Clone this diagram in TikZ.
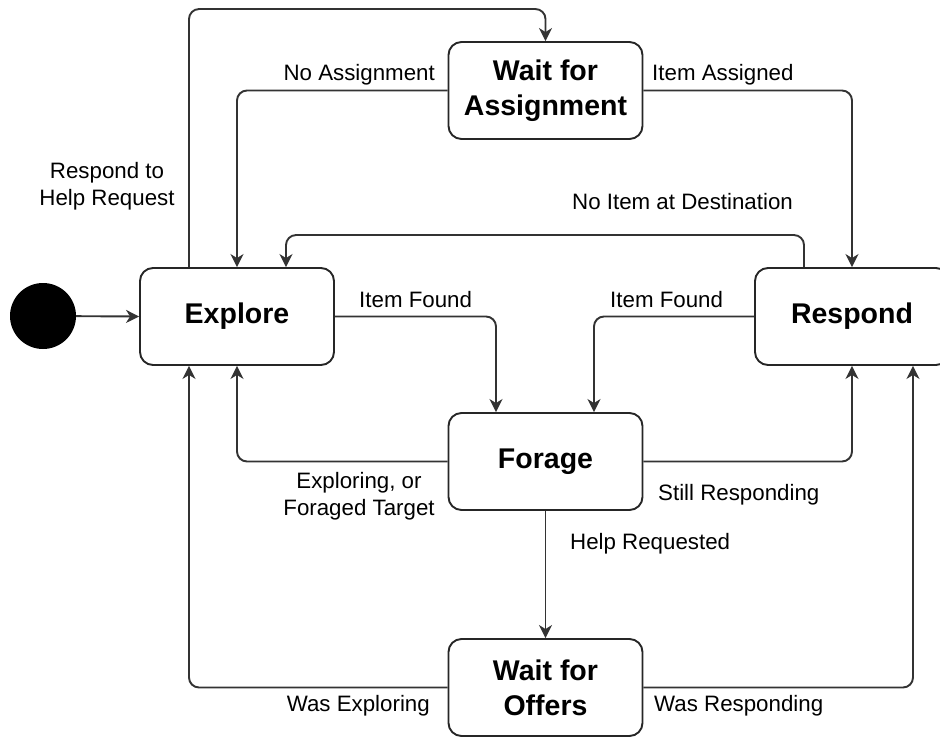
\documentclass[tikz,border=0pt]{standalone}
\usepackage{fontspec}
\setmainfont{Liberation Sans}
\usetikzlibrary{arrows.meta}
\tikzset{
  state/.style={draw=black!85, line width=1.9pt, rounded corners=13pt, fill=white,
    minimum width=194pt, minimum height=97pt, inner sep=0pt, align=center,
    font=\fontsize{28.5}{35}\selectfont\bfseries},
  conn/.style={draw=black!80, line width=1.9pt, rounded corners=10pt,
    -{Stealth[length=13pt,width=13pt,inset=4pt]}},
  lbl/.style={inner sep=0pt, font=\fontsize{22.3}{27.5}\selectfont, align=center},
}
\begin{document}
\begin{tikzpicture}[x=1pt,y=-1pt]
\useasboundingbox (0,0) rectangle (940,738);
\node[circle, fill=black, minimum size=66pt, inner sep=0pt] (init) at (43,316) {};
\node[state] (explore) at (237,316.5) {Explore};
\node[state] (wfa) at (545.5,90.5) {Wait for\\Assignment};
\node[state] (respond) at (852,316.5) {Respond};
\node[state] (forage) at (545.5,461.5) {Forage};
\node[state] (wfo) at (545.5,687.5) {Wait for\\Offers};

\draw[conn] (init) -- (explore.west);
\draw[conn] ([xshift=-48pt]explore.north) |- ([yshift=32pt]wfa.north) -- (wfa.north);
\draw[conn] (wfa.west) -| (explore.north);
\draw[conn] (wfa.east) -| (respond.north);
\draw[conn] ([xshift=-48pt]respond.north) |- ([xshift=49pt,yshift=32pt]explore.north) -- ([xshift=49pt]explore.north);
\draw[conn] (explore.east) -| ([xshift=-49.5pt]forage.north);
\draw[conn] (respond.west) -| ([xshift=48.5pt]forage.north);
\draw[conn] (forage.west) -| (explore.south);
\draw[conn] (forage.east) -| (respond.south);
\draw[conn] (forage.south) -- (wfo.north);
\draw[conn] (wfo.west) -| ([xshift=-48pt]explore.south);
\draw[conn] (wfo.east) -| ([xshift=61pt]respond.south);

\node[lbl] (l1) at (107,186) {Respond to\\Help Request};
\node[lbl, anchor=base east] (l2) at (435,81) {No Assignment};
\node[lbl, anchor=base west] (l3) at (652,81) {Item Assigned};
\node[lbl, anchor=base west] (l4) at (572,210) {No Item at Destination};
\node[lbl, anchor=base west] (l5) at (359,307) {Item Found};
\node[lbl, anchor=base west] (l6) at (610,307) {Item Found};
\node[lbl] (l7) at (359,496) {Exploring, or\\Foraged Target};
\node[lbl, anchor=base west] (l8) at (658,500.5) {Still Responding};
\node[lbl, anchor=base west] (l9) at (570,549) {Help Requested};
\node[lbl, anchor=base east] (l10) at (430,711) {Was Exploring};
\node[lbl, anchor=base west] (l11) at (654,711) {Was Responding};
\end{tikzpicture}
\end{document}
